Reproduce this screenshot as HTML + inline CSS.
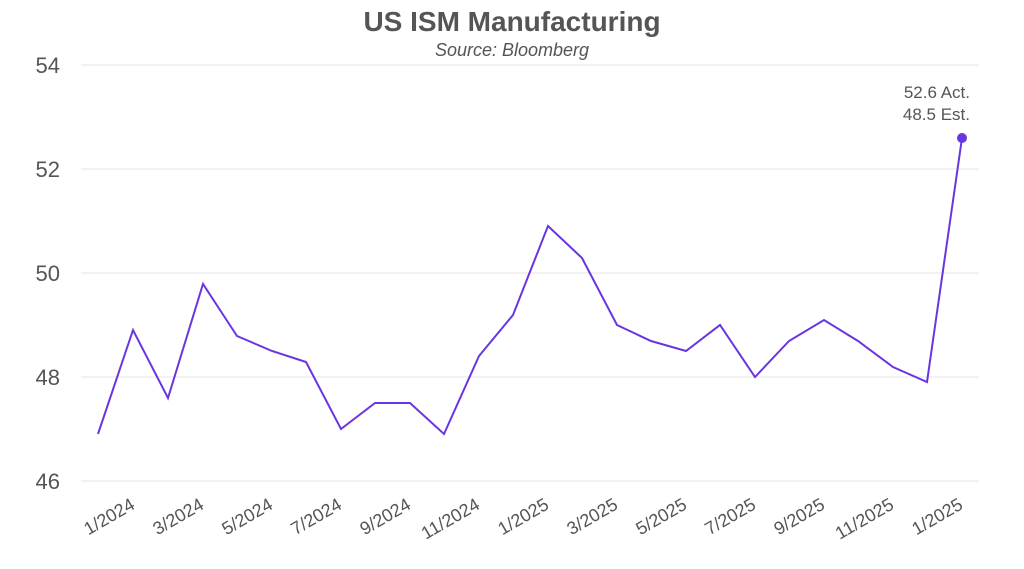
<!DOCTYPE html>
<html><head><meta charset="utf-8"><style>body{margin:0;background:#fff}svg{display:block}text{font-family:"Liberation Sans",sans-serif;fill:#555}</style></head><body>
<svg width="1024" height="569" viewBox="0 0 1024 569">
<text x="512" y="31" text-anchor="middle" font-size="28" font-weight="bold">US ISM Manufacturing</text>
<text x="512" y="56" text-anchor="middle" font-size="18" font-style="italic">Source: Bloomberg</text>
<g stroke="#e6e6e6" stroke-width="1">
<line x1="81" x2="979" y1="65" y2="65"/><line x1="81" x2="979" y1="169" y2="169"/><line x1="81" x2="979" y1="273" y2="273"/><line x1="81" x2="979" y1="377" y2="377"/><line x1="81" x2="979" y1="481" y2="481"/>
</g>
<g font-size="22" text-anchor="end">
<text x="60" y="73">54</text><text x="60" y="177">52</text><text x="60" y="281">50</text><text x="60" y="385">48</text><text x="60" y="489">46</text>
</g>
<polyline fill="none" stroke="#6a35e0" stroke-width="2" points="98,434 133,330 168,398 203,284 237,336 272,351 306,362 341,429 375,403 410,403 444,434 479,356 513,315 548,226 582,258 617,325 651,341 686,351 720,325 755,377 789,341 824,320 858,341 893,367 927,382 962,138"/>
<circle cx="962" cy="138" r="5" fill="#6a35e0"/>
<text x="970" y="98" text-anchor="end" font-size="17">52.6 Act.</text>
<text x="970" y="120" text-anchor="end" font-size="17">48.5 Est.</text>
<g font-size="18" text-anchor="end">
<text transform="translate(136,508) rotate(-30)">1/2024</text>
<text transform="translate(205,508) rotate(-30)">3/2024</text>
<text transform="translate(274,508) rotate(-30)">5/2024</text>
<text transform="translate(343,508) rotate(-30)">7/2024</text>
<text transform="translate(412,508) rotate(-30)">9/2024</text>
<text transform="translate(481,508) rotate(-30)">11/2024</text>
<text transform="translate(550,508) rotate(-30)">1/2025</text>
<text transform="translate(619,508) rotate(-30)">3/2025</text>
<text transform="translate(688,508) rotate(-30)">5/2025</text>
<text transform="translate(757,508) rotate(-30)">7/2025</text>
<text transform="translate(826,508) rotate(-30)">9/2025</text>
<text transform="translate(895,508) rotate(-30)">11/2025</text>
<text transform="translate(964,508) rotate(-30)">1/2025</text>
</g>
</svg>
</body></html>
